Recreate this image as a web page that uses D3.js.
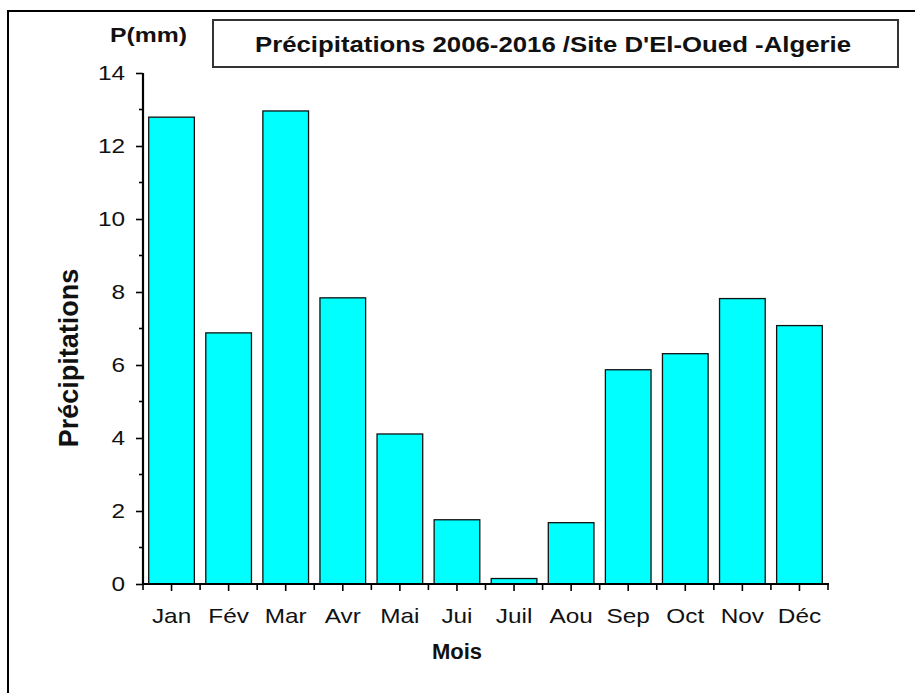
<!DOCTYPE html>
<html>
<head>
<meta charset="utf-8">
<script src="https://cdn.jsdelivr.net/npm/d3@7"></script>
<style>
  body { margin: 0; background: #fff; }
  text { font-family: "Liberation Sans", Arial, sans-serif; fill: #111; }
</style>
</head>
<body>
<div id="chart"></div>
<script>
// data
const months = ["Jan", "Fév", "Mar", "Avr", "Mai", "Jui", "Juil", "Aou", "Sep", "Oct", "Nov", "Déc"];
const precip = [12.79, 6.88, 12.96, 7.84, 4.11, 1.76, 0.15, 1.68, 5.87, 6.31, 7.82, 7.08];
const yTicks = [0, 2, 4, 6, 8, 10, 12, 14];
const yMinorTicks = [1, 3, 5, 7, 9, 11, 13];

const W = 915, H = 693;
const plot = {left: 143, right: 828, top: 73, bottom: 584};
const stretch = 1.16; // the scanned figure's text is a bit wide

let svg = d3.select("#chart").append("svg")
	.attr("width", W)
	.attr("height", H);

svg.append("rect").attr("width", W).attr("height", H).attr("fill", "#fff");

// outer frame (only top and left show)
svg.append("path")
	.attr("d", "M8," + H + "V11H" + W)
	.attr("fill", "none")
	.attr("stroke", "#000")
	.attr("stroke-width", 2);

// scales
let x = d3.scaleBand()
	.domain(months)
	.range([plot.left, plot.right])
	.paddingInner(0.2)
	.paddingOuter(0.1);

let y = d3.scaleLinear()
	.domain([0, 14])
	.range([plot.bottom, plot.top]);

// bars
svg.selectAll("rect.bar")
	.data(months.map((m, i) => ({key: m, value: precip[i]})))
	.enter()
	.append("rect")
	.attr("class", "bar")
	.attr("x", d => x(d.key))
	.attr("y", d => y(d.value))
	.attr("width", x.bandwidth())
	.attr("height", d => y(0) - y(d.value))
	.attr("fill", "#00ffff")
	.attr("stroke", "#111")
	.attr("stroke-width", 1.3);

function widen(sel) {
	sel.each(function() {
		let w = this.getComputedTextLength();
		d3.select(this)
			.attr("textLength", w * stretch)
			.attr("lengthAdjust", "spacingAndGlyphs");
	});
}

// y axis
let yAxis = d3.axisLeft(y)
	.tickValues(yTicks)
	.tickSize(7)
	.tickPadding(11)
	.tickFormat(d3.format("d"));

let gy = svg.append("g")
	.attr("transform", "translate(" + plot.left + ",0)")
	.call(yAxis);
gy.select(".domain").attr("stroke-width", 2.2).attr("d", "M0," + plot.top + "V" + (plot.bottom + 1));
gy.selectAll(".tick line").attr("stroke-width", 1.6);
gy.selectAll(".tick text")
	.attr("font-size", 21)
	.attr("font-family", "Liberation Sans, Arial, sans-serif")
	.attr("fill", "#111")
	.call(widen);

svg.append("g")
	.selectAll("line")
	.data(yMinorTicks)
	.enter()
	.append("line")
	.attr("x1", plot.left - 4)
	.attr("x2", plot.left)
	.attr("y1", d => y(d))
	.attr("y2", d => y(d))
	.attr("stroke", "#000")
	.attr("stroke-width", 1.6);

// x axis
let xAxis = d3.axisBottom(x)
	.tickSize(7)
	.tickPadding(17)
	.tickSizeOuter(0);

let gx = svg.append("g")
	.attr("transform", "translate(0," + plot.bottom + ")")
	.call(xAxis);
gx.select(".domain").attr("stroke-width", 2.2).attr("d", "M" + (plot.left - 1) + ",0H" + (plot.right + 1));
gx.selectAll(".tick line").attr("stroke-width", 1.6);
gx.selectAll(".tick text")
	.attr("font-size", 21)
	.attr("font-family", "Liberation Sans, Arial, sans-serif")
	.attr("fill", "#111")
	.call(widen);

// boundary ticks between categories
let step = x.step();
let bounds = months.map(m => x(m) - step * x.paddingInner() / 2);
bounds.push(plot.right);
svg.append("g")
	.selectAll("line")
	.data(bounds)
	.enter()
	.append("line")
	.attr("x1", d => d)
	.attr("x2", d => d)
	.attr("y1", plot.bottom)
	.attr("y2", plot.bottom + 6)
	.attr("stroke", "#000")
	.attr("stroke-width", 1.6);

// titles
svg.append("rect")
	.attr("x", 213)
	.attr("y", 20)
	.attr("width", 685)
	.attr("height", 47)
	.attr("fill", "#fff")
	.attr("stroke", "#333")
	.attr("stroke-width", 2);

svg.append("text")
	.attr("x", 553)
	.attr("y", 52)
	.attr("text-anchor", "middle")
	.attr("font-size", 22)
	.attr("font-weight", "bold")
	.attr("textLength", 596)
	.attr("lengthAdjust", "spacingAndGlyphs")
	.text("Précipitations 2006-2016 /Site D'El-Oued -Algerie");

svg.append("text")
	.attr("x", 110)
	.attr("y", 42)
	.attr("font-size", 21)
	.attr("font-weight", "bold")
	.attr("textLength", 77)
	.attr("lengthAdjust", "spacingAndGlyphs")
	.text("P(mm)");

svg.append("text")
	.attr("transform", "translate(78,358) rotate(-90)")
	.attr("text-anchor", "middle")
	.attr("font-size", 27)
	.attr("font-weight", "bold")
	.text("Précipitations");

svg.append("text")
	.attr("x", 457)
	.attr("y", 659)
	.attr("text-anchor", "middle")
	.attr("font-size", 22)
	.attr("font-weight", "bold")
	.text("Mois");
</script>
</body>
</html>
